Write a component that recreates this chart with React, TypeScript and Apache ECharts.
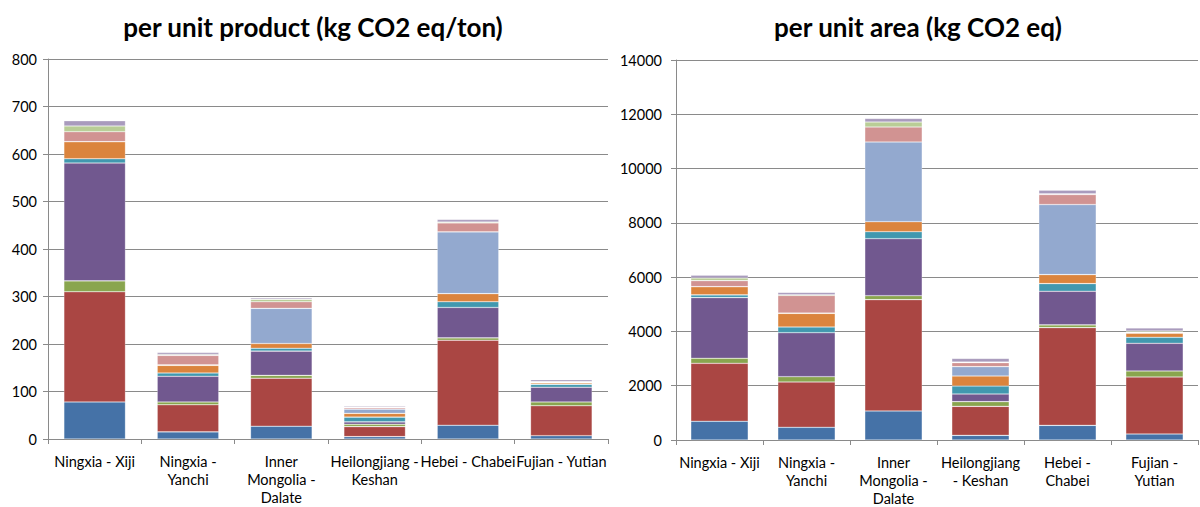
import React, { useEffect, useRef } from "react";
import * as echarts from "echarts";

const categories = [
  "Ningxia - Xiji",
  "Ningxia - Yanchi",
  "Inner Mongolia - Dalate",
  "Heilongjiang - Keshan",
  "Hebei - Chabei",
  "Fujian - Yutian",
];
const leftTickLabels = [
  "Ningxia - Xiji",
  "Ningxia -\nYanchi",
  "Inner\nMongolia -\nDalate",
  "Heilongjiang -\nKeshan",
  "Hebei - Chabei",
  "Fujian - Yutian",
];
const rightTickLabels = [
  "Ningxia - Xiji",
  "Ningxia -\nYanchi",
  "Inner\nMongolia -\nDalate",
  "Heilongjiang\n- Keshan",
  "Hebei -\nChabei",
  "Fujian -\nYutian",
];
const seriesNames = ["S1", "S2", "S3", "S4", "S5", "S6", "S7", "S8", "S9", "S10"];
const colors = [
  "#4572A7", "#AA4643", "#89A54E", "#71588F", "#4198AF",
  "#DB843D", "#93A9CF", "#D19392", "#B9CD96", "#A99BBD",
];

// per unit product (kg CO2 eq/ton): one array per stacked component, per category
const productValues = [
  [78, 15, 27, 5, 29, 7],
  [232, 57, 101, 21, 179, 63],
  [23, 6, 6, 5, 5, 8],
  [248, 54, 51, 5, 64, 31],
  [9, 7, 6, 10, 12, 6],
  [36, 16, 10, 8, 17, 3],
  [0, 1, 74, 9, 130, 1],
  [21, 20, 14, 3, 19, 1],
  [12, 2, 5, 1, 2, 1],
  [11, 4, 3, 2, 5, 4],
];

// per unit area (kg CO2 eq)
const areaValues = [
  [690, 467, 1070, 172, 540, 221],
  [2135, 1670, 4100, 1068, 3600, 2100],
  [185, 196, 147, 172, 100, 221],
  [2235, 1620, 2100, 283, 1240, 1020],
  [100, 210, 258, 295, 282, 221],
  [305, 503, 368, 368, 332, 148],
  [0, 10, 2935, 344, 2580, 24],
  [220, 650, 553, 147, 368, 24],
  [100, 25, 184, 24, 25, 38],
  [100, 86, 135, 136, 135, 110],
];

const titles = ["per unit product (kg CO2 eq/ton)", "per unit area (kg CO2 eq)"];

export default function App() {
  const ref = useRef<HTMLDivElement>(null);
  useEffect(() => {
    if (!ref.current) return;
    const chart = echarts.init(ref.current, undefined, { renderer: "svg" });
    const font = "Lato, 'Open Sans', sans-serif";
    const gridColor = "#8a8a8a";
    const xAxisCommon = {
      type: "category" as const,
      data: categories,
      axisLine: { lineStyle: { color: gridColor, width: 1 } },
      axisTick: { show: true, length: 5, lineStyle: { color: gridColor } },
      splitLine: { show: false },
    };
    const yAxisCommon = {
      type: "value" as const,
      min: 0,
      axisLine: { show: true, lineStyle: { color: gridColor, width: 1 } },
      axisTick: { show: true, length: 5, lineStyle: { color: gridColor } },
      splitLine: { show: true, lineStyle: { color: gridColor, width: 1 } },
      axisLabel: {
        color: "#000",
        fontFamily: font,
        fontSize: 14.5,
        formatter: (v: number) => String(v),
      },
    };
    const makeSeries = (vals: number[][], idx: number, stack: string) =>
      vals.map((d, i) => ({
        type: "bar" as const,
        name: seriesNames[i],
        stack,
        xAxisIndex: idx,
        yAxisIndex: idx,
        data: d,
        barWidth: "66%",
        itemStyle: {
          color: colors[i],
          borderColor: "rgba(255,255,255,0.4)",
          borderWidth: 0.6,
        },
      }));
    const titleStyle = { fontFamily: font, fontWeight: "bold" as const, fontSize: 26, color: "#000" };
    chart.setOption({
      animation: false,
      backgroundColor: "#fff",
      title: [
        { text: titles[0], left: 308, top: 9, textAlign: "center", textStyle: titleStyle },
        { text: titles[1], left: 913, top: 9, textAlign: "center", textStyle: titleStyle },
      ],
      grid: [
        { left: 48, right: 592, top: 59, bottom: 68 },
        { left: 676, right: 2, top: 60, bottom: 67 },
      ],
      xAxis: [
        {
          ...xAxisCommon,
          gridIndex: 0,
          axisLabel: {
            color: "#000",
            fontFamily: font,
            fontSize: 14.5,
            lineHeight: 18,
            interval: 0,
            margin: 13,
            formatter: (_v: string, i: number) => leftTickLabels[i],
          },
        },
        {
          ...xAxisCommon,
          gridIndex: 1,
          axisLabel: {
            color: "#000",
            fontFamily: font,
            fontSize: 14.5,
            lineHeight: 18,
            interval: 0,
            margin: 13,
            formatter: (_v: string, i: number) => rightTickLabels[i],
          },
        },
      ],
      yAxis: [
        { ...yAxisCommon, gridIndex: 0, max: 800, interval: 100, axisLabel: { ...yAxisCommon.axisLabel, margin: 11 } },
        { ...yAxisCommon, gridIndex: 1, max: 14000, interval: 2000, axisLabel: { ...yAxisCommon.axisLabel, margin: 14 } },
      ],
      series: [...makeSeries(productValues, 0, "p"), ...makeSeries(areaValues, 1, "a")],
    });
    return () => chart.dispose();
  }, []);
  return (
    <div
      ref={ref}
      style={{ position: "absolute", left: 0, top: 0, width: 1200, height: 507 }}
    />
  );
}
